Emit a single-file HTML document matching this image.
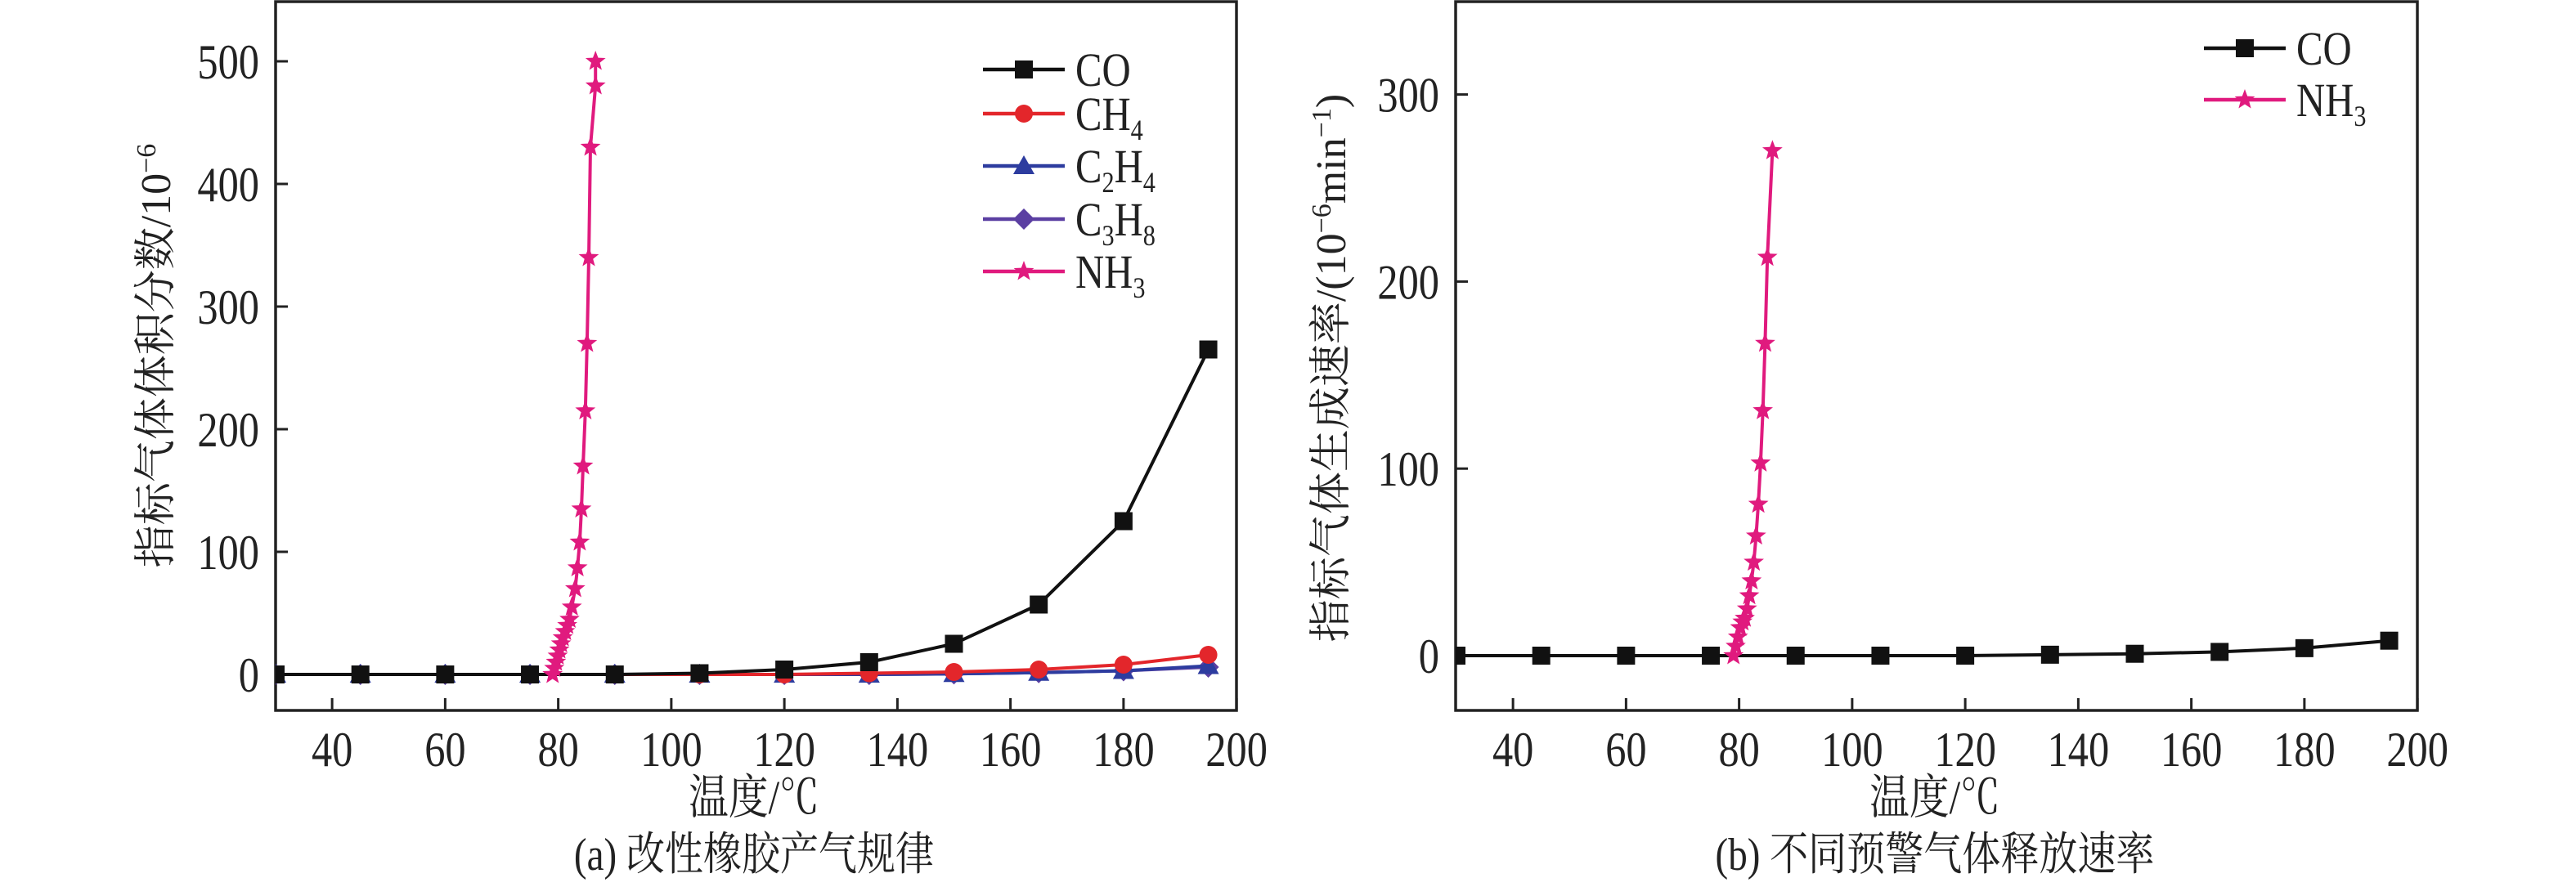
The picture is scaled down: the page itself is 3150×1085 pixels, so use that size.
<!DOCTYPE html>
<html><head><meta charset="utf-8">
<style>
html,body{margin:0;padding:0;background:#fff;}
svg{display:block;}
text{font-family:"Liberation Serif","Noto Serif CJK SC",serif;fill:#222;}
</style></head>
<body>
<svg id="chart" width="3150" height="1085" viewBox="0 0 3150 1085" xmlns="http://www.w3.org/2000/svg"></svg>
<script>
// ---- data ----
const xTicks = [40,60,80,100,120,140,160,180,200];
const yTicksA = [0,100,200,300,400,500];
const yTicksB = [0,100,200,300];
const tempsCO = [30,45,60,75,90,105,120,135,150,165,180,195];
const coA = [0,0,0,0,0,1,4,10,25,57,125,265];
const ch4A = [0,0,0,0,0,0,0,1,2,4,8,16];
const c2h4A = [0,0,0,0,0,0,0,0,0.5,1.5,3,7];
const c3h8A = [0,0,0,0,0,0,0,0,0.5,1.5,3,6];
const nh3TempsA = [79,79.3,79.6,79.9,80.2,80.5,80.8,81.2,81.6,82,82.4,83,83.4,83.8,84.1,84.4,84.8,85.1,85.4,85.7,86.6,86.6];
const nh3A = [0,5,10,15,20,25,30,35,40,45,55,70,87,108,135,170,215,270,340,430,480,500];
const coB = [0,0,0,0,0,0,0,0.5,1,2,4,8];
const nh3TempsB = [79,79.4,79.8,80.2,80.6,81,81.4,81.8,82.2,82.6,83,83.4,83.8,84.2,84.6,85,85.9];
const nh3B = [0,5,10,15,18,20,25,32,40,50,64,81,103,131,167,213,270];

const NS='http://www.w3.org/2000/svg';
const svg=document.getElementById('chart');
function el(tag,attrs,parent){const e=document.createElementNS(NS,tag);for(const k in attrs)e.setAttribute(k,attrs[k]);(parent||svg).appendChild(e);return e;}
function ctext(x,y,size,anchor,parent){return el('text',{x:0,y:0,'font-size':size,'text-anchor':anchor,transform:`translate(${x},${y}) scale(0.84,1)`},parent);}

function makePanel(p){
  const g=el('g',{});
  
  
  const sx=v=>p.x0+(v-30)*p.kx;
  const sy=v=>p.y0-v*p.ky;
  const frame=el('rect',{x:p.left,y:2,width:p.right-p.left,height:p.bottom-2,fill:'none',stroke:'#222','stroke-width':3.5},g);
  
  
  xTicks.forEach(t=>{
    const x=sx(t);
    const tk=el('line',{x1:x,x2:x,y1:p.bottom,y2:p.bottom-15,stroke:'#222','stroke-width':3},g);
    
    
    const tx=ctext(x,937,60,'middle',g);
    tx.textContent=t;
    
    
  });
  p.yTicks.forEach(t=>{
    const y=sy(t);
    const tk=el('line',{x1:p.left,x2:p.left+15,y1:y,y2:y,stroke:'#222','stroke-width':3},g);
    
    
    const tx=ctext(p.left-20,y+21,60,'end',g);
    tx.textContent=t;
    
    
  });
  const clipId='clip'+p.name;
  const cp=el('clipPath',{id:clipId},g);
  el('rect',{x:p.left,y:2,width:p.right-p.left,height:p.bottom-2},cp);
  const plotG=el('g',{'clip-path':'url(#'+clipId+')'},g);
  p.series.forEach(s=>{
    const sg=el('g',{},plotG);
    
    
    const pts=s.xs.map((x,i)=>sx(x).toFixed(1)+','+sy(s.ys[i]).toFixed(1)).join(' ');
    const pl=el('polyline',{points:pts,fill:'none',stroke:s.color,'stroke-width':4},sg);
    
    
    s.xs.forEach((x,i)=>{
      const m=marker(s.marker,sx(x),sy(s.ys[i]),s.color,sg);
      
      
    });
  });
  p.legend.forEach((s,i)=>{
    const y=p.legY[i];
    const lg=el('g',{},g);
    
    
    el('line',{x1:p.legX,x2:p.legX+100,y1:y,y2:y,stroke:s.color,'stroke-width':4.5},lg);
    marker(s.marker,p.legX+50,y,s.color,lg);
    const t=ctext(p.legX+113,y+20,58,'start',lg);
    t.innerHTML=s.label;
  });
  const xt=ctext(p.xTitleX,995,58,'middle',g);
  xt.textContent='温度/℃';
  
  
  const yt=el('text',{x:0,y:0,'font-size':52,'text-anchor':'middle',transform:`translate(${p.yTitleX},${p.yTitleY}) rotate(-90)`},g);
  yt.innerHTML=p.yTitle;
  
  
  const cap=ctext(p.xTitleX,1064,56,'middle',g);
  cap.textContent=p.caption;
  
  
}
function marker(type,x,y,c,parent){
  if(type==='square')return el('rect',{x:x-11,y:y-11,width:22,height:22,fill:c},parent);
  if(type==='circle')return el('circle',{cx:x,cy:y,r:11,fill:c},parent);
  if(type==='triangle')return el('polygon',{points:`${x},${y-13} ${x+13},${y+10} ${x-13},${y+10}`,fill:c},parent);
  if(type==='diamond')return el('polygon',{points:`${x},${y-13} ${x+13},${y} ${x},${y+13} ${x-13},${y}`,fill:c},parent);
  let pts=[];for(let i=0;i<10;i++){const r=i%2?5.5:13;const a=-Math.PI/2+i*Math.PI/5;pts.push((x+r*Math.cos(a)).toFixed(1)+','+(y+r*Math.sin(a)).toFixed(1));}
  return el('polygon',{points:pts.join(' '),fill:c},parent);
}
const sCO={key:'co',label:'CO',color:'#111',marker:'square'};
const sCH4={key:'ch4',label:'CH<tspan font-size="36" dy="12">4</tspan>',color:'#e3262b',marker:'circle'};
const sC2H4={key:'c2h4',label:'C<tspan font-size="36" dy="12">2</tspan><tspan dy="-12">H</tspan><tspan font-size="36" dy="12">4</tspan>',color:'#2d3c9f',marker:'triangle'};
const sC3H8={key:'c3h8',label:'C<tspan font-size="36" dy="12">3</tspan><tspan dy="-12">H</tspan><tspan font-size="36" dy="12">8</tspan>',color:'#5b3fa2',marker:'diamond'};
const sNH3={key:'nh3',label:'NH<tspan font-size="36" dy="12">3</tspan>',color:'#e01a7e',marker:'star'};
makePanel({name:'panel-a',left:337,right:1512,bottom:869,x0:337,kx:6.9125,y0:825,ky:1.5,yTicks:yTicksA,
  series:[Object.assign({xs:tempsCO,ys:c3h8A},sC3H8),Object.assign({xs:tempsCO,ys:c2h4A},sC2H4),Object.assign({xs:tempsCO,ys:ch4A},sCH4),Object.assign({xs:tempsCO,ys:coA},sCO),Object.assign({xs:nh3TempsA,ys:nh3A},sNH3)],
  legend:[sCO,sCH4,sC2H4,sC3H8,sNH3],legX:1202,legY:[85,139,203,268,332],
  xTitleX:922,yTitleX:208,yTitleY:435,yTitle:'指标气体体积分数/10<tspan font-size="34" dy="-18">−6</tspan>',caption:'(a) 改性橡胶产气规律'});
makePanel({name:'panel-b',left:1780,right:2956,bottom:869,x0:1781,kx:6.9125,y0:802,ky:2.288,yTicks:yTicksB,
  series:[Object.assign({xs:tempsCO,ys:coB},sCO),Object.assign({xs:nh3TempsB,ys:nh3B},sNH3)],
  legend:[sCO,sNH3],legX:2695,legY:[59,122],
  xTitleX:2366,yTitleX:1645,yTitleY:450,yTitle:'指标气体生成速率/(10<tspan font-size="34" dy="-18">−6</tspan><tspan dy="18">min</tspan><tspan font-size="34" dy="-18">−1</tspan><tspan dy="18">)</tspan>',caption:'(b) 不同预警气体释放速率'});
</script>
</body></html>
